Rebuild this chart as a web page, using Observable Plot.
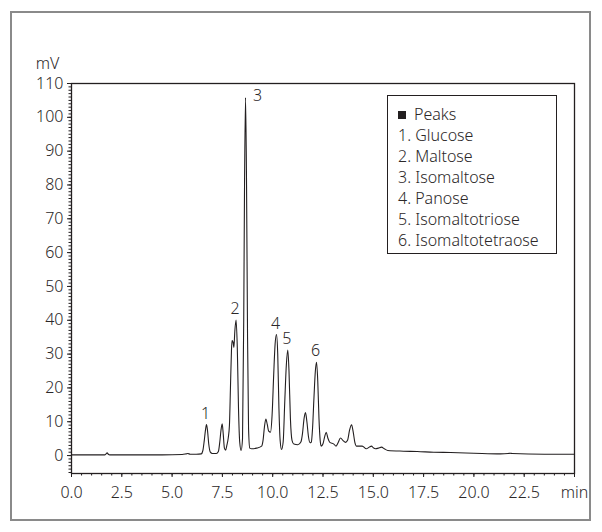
<!DOCTYPE html>
<html>
<head>
<meta charset="utf-8">
<script src="https://cdn.jsdelivr.net/npm/d3@7"></script>
<script src="https://cdn.jsdelivr.net/npm/@observablehq/plot@0.6"></script>
<style>
  body { margin: 0; background: #fff; font-family: "Noto Sans", sans-serif; }
  #wrap { position: relative; width: 602px; height: 532px; overflow: hidden; }
  #outer { position: absolute; left: 10px; top: 11px; width: 581px; height: 510px; border: 2px solid #8a8a8a; box-sizing: border-box; }
  #chart { position: absolute; left: 0; top: 0; }
  #legend { position: absolute; left: 387px; top: 95px; width: 170px; height: 159px; border: 1.3px solid #231f20; box-sizing: border-box; padding: 8px 0 0 10px; color: #2b2728; font-size: 16px; font-weight: 300; line-height: 21px; background: #fff; white-space: nowrap; }
  #legend .sq { display: inline-block; width: 8px; height: 8px; background: #231f20; margin-right: 8px; vertical-align: 1px; }
</style>
</head>
<body>
<div id="wrap">
  <div id="outer"></div>
  <div id="chart"></div>
  <div id="legend"></div>
</div>
<script>
// Chromatogram trace: retention time (min) and detector signal (mV)
const time = [
  0.0, 1.0, 1.65, 1.72, 1.77, 1.83, 1.9, 3.0, 4.5, 5.5, 5.7, 5.78, 5.9, 6.2,
  6.45, 6.53, 6.6, 6.66, 6.71, 6.76, 6.82, 6.9, 7.0, 7.2,
  7.3, 7.37, 7.43, 7.49, 7.54, 7.6, 7.66, 7.72, 7.79, 7.85, 7.9, 7.95, 7.98,
  8.03, 8.07, 8.12, 8.18, 8.24, 8.3, 8.36, 8.43,
  8.5, 8.56, 8.6, 8.65, 8.7, 8.75, 8.8, 8.86, 8.95, 9.2,
  9.45, 9.52, 9.59, 9.66, 9.73, 9.8, 9.89, 9.97, 10.05, 10.12, 10.19, 10.25, 10.31, 10.37, 10.44,
  10.52, 10.6, 10.68, 10.75, 10.81, 10.88, 10.96, 11.05, 11.25,
  11.4, 11.48, 11.56, 11.63, 11.7, 11.78, 11.86, 11.92, 11.98, 12.05, 12.12, 12.18, 12.24, 12.3, 12.36, 12.41,
  12.5, 12.58, 12.66, 12.74, 12.84, 13.04, 13.15, 13.25, 13.37, 13.5, 13.62, 13.72, 13.82, 13.92, 14.0, 14.08, 14.17,
  14.45, 14.65, 14.8, 14.91, 15.0, 15.11, 15.25, 15.41, 15.55, 15.72,
  16.5, 17.18, 18.0, 18.84, 20.0, 21.32, 21.7, 21.8, 21.9, 23.5, 25.0
];
const signal = [
  0.2, 0.2, 0.2, 0.5, 0.8, 0.4, 0.2, 0.2, 0.2, 0.3, 0.5, 0.6, 0.4, 0.4,
  0.5, 1.5, 4.5, 7.6, 9.2, 7.4, 3.5, 1.0, 0.6, 0.6,
  1.2, 4.0, 7.5, 9.4, 6.5, 2.2, 1.6, 3.0, 5.2, 9.0, 20, 31, 34,
  33.5, 32, 37, 40.1, 32, 14, 4, 1.5,
  5, 40, 80, 105.8, 80, 35, 8, 2.2, 2.0, 2.2,
  2.8, 4.5, 8.5, 10.8, 9.2, 7.2, 6.9, 12, 24, 33, 35.8, 30, 14, 4.5, 1.8,
  4, 16, 27, 31.2, 25, 11, 4.5, 3.4, 3.2,
  4.0, 6.5, 11, 12.7, 10, 5.5, 3.8, 4.0, 8, 17, 25, 27.6, 22, 11, 4.5, 2.8,
  3.5, 5.5, 6.9, 5.2, 3.9, 3.4, 2.8, 3.8, 5.2, 4.4, 3.9, 4.5, 7.5, 9.1, 7, 4, 2.8,
  2.8, 2.0, 2.5, 2.8, 2.3, 2.0, 2.2, 2.5, 2.0, 1.5,
  1.3, 1.2, 1.0, 0.9, 0.7, 0.5, 0.6, 0.7, 0.6, 0.4, 0.4
];

// Numbered peaks
const peakLabels = ["1", "2", "3", "4", "5", "6"];
const peakTimes = [6.71, 8.18, 8.65, 10.19, 10.75, 12.18];
const peakHeights = [9.2, 40.1, 105.8, 35.8, 31.2, 27.6];

// Legend
const legendTitle = "Peaks";
const legendItems = ["1. Glucose", "2. Maltose", "3. Isomaltose", "4. Panose", "5. Isomaltotriose", "6. Isomaltotetraose"];

// Axes
const xTicks = [0, 2.5, 5, 7.5, 10, 12.5, 15, 17.5, 20, 22.5, 25];
const xTickLabels = ["0.0", "2.5", "5.0", "7.5", "10.0", "12.5", "15.0", "17.5", "20.0", "22.5", "min"];
const xMinorStep = 0.5;
const yTicks = [0, 10, 20, 30, 40, 50, 60, 70, 80, 90, 100, 110];
const yMinorStep = 1;
const yUnit = "mV";

const ink = "#231f20";
const textInk = "#2b2728";
const trace = time.map((t, i) => ({t, v: signal[i]}));
const peaks = peakLabels.map((label, i) => ({label, t: peakTimes[i], v: peakHeights[i]}));
const xMinor = d3.range(0, 25 + 1e-9, xMinorStep);
const yMinor = d3.range(-5, 110 + 1e-9, yMinorStep);

const chart = Plot.plot({
  width: 602,
  height: 532,
  marginLeft: 71,
  marginRight: 28,
  marginTop: 83,
  marginBottom: 59,
  style: {fontFamily: "'Noto Sans', sans-serif", fontSize: "16px", fontWeight: 300, color: ink, background: "transparent"},
  x: {domain: [0, 25]},
  y: {domain: [-5.3, 110]},
  marks: [
    Plot.axisX(xMinor, {tickSize: 2.5, tickFormat: () => "", label: null, stroke: ink}),
    Plot.axisX(xTicks, {tickSize: 4, tickPadding: 9, tickFormat: (d) => xTickLabels[xTicks.indexOf(d)], label: null, stroke: ink, fill: textInk, fontSize: 16}),
    Plot.axisY(yMinor, {tickSize: 2.5, tickFormat: () => "", label: null, stroke: ink}),
    Plot.axisY(yTicks, {tickSize: 4, tickPadding: 4, label: null, stroke: ink, fill: textInk, fontSize: 16}),
    Plot.text([yUnit], {frameAnchor: "top-left", dx: -24, dy: -20, textAnchor: "middle", lineAnchor: "middle", fill: textInk, fontSize: 16}),
    Plot.frame({stroke: ink, strokeWidth: 1.3}),
    Plot.line(trace, {x: "t", y: "v", curve: "monotone-x", stroke: ink, strokeWidth: 1.1}),
    Plot.text(peaks.filter(d => d.label !== "3"), {x: "t", y: "v", text: "label", dy: -11, dx: -1, lineAnchor: "middle", fill: textInk, fontSize: 16}),
    Plot.text(peaks.filter(d => d.label === "3"), {x: "t", y: "v", text: "label", dx: 12, dy: -2, lineAnchor: "middle", fill: textInk, fontSize: 16})
  ]
});
document.getElementById("chart").appendChild(chart);

const legend = document.getElementById("legend");
const head = document.createElement("div");
head.innerHTML = `<span class="sq"></span>${legendTitle}`;
legend.appendChild(head);
for (const item of legendItems) {
  const row = document.createElement("div");
  row.textContent = item;
  legend.appendChild(row);
}
</script>
</body>
</html>
